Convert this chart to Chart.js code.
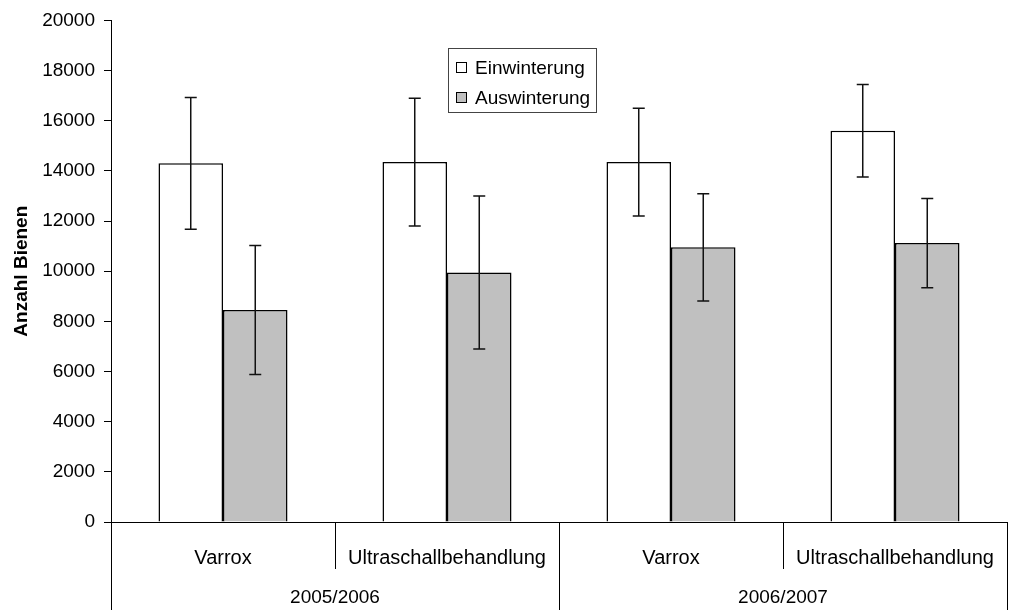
<!DOCTYPE html>
<html>
<head>
<meta charset="utf-8">
<script src="https://cdn.jsdelivr.net/npm/chart.js@4/dist/chart.umd.min.js"></script>
<style>
  html, body { margin: 0; padding: 0; background: #fff; }
  #wrap { width: 1011px; height: 610px; }
</style>
</head>
<body>
<div id="wrap"><canvas id="bienenChart"></canvas></div>
<script>
// data
const categories = ['Varrox', 'Ultraschallbehandlung', 'Varrox', 'Ultraschallbehandlung'];
const groups = ['2005/2006', '2006/2007'];
const einwinterung = [14300, 14350, 14350, 15600];
const einwinterungErr = [2630, 2550, 2150, 1840];
const auswinterung = [8450, 9950, 10950, 11120];
const auswinterungErr = [2570, 3050, 2140, 1775];
const seriesNames = ['Einwinterung', 'Auswinterung'];
const seriesColors = ['#ffffff', '#c0c0c0'];

const FONT = '"Liberation Sans", Arial, sans-serif';

// error bars drawn from the y scale
const errorBars = {
    id: 'errorBars',
    afterDatasetsDraw(chart) {
        const ctx = chart.ctx;
        const y = chart.scales.y;
        ctx.save();
        ctx.strokeStyle = '#111';
        ctx.lineWidth = 1.5;
        chart.data.datasets.forEach((ds, i) => {
            const meta = chart.getDatasetMeta(i);
            meta.data.forEach((bar, j) => {
                const v = ds.data[j];
                const e = ds.errors[j];
                const top = y.getPixelForValue(v + e);
                const bot = y.getPixelForValue(v - e);
                ctx.beginPath();
                ctx.moveTo(bar.x, top);
                ctx.lineTo(bar.x, bot);
                ctx.moveTo(bar.x - 6, top);
                ctx.lineTo(bar.x + 6, top);
                ctx.moveTo(bar.x - 6, bot);
                ctx.lineTo(bar.x + 6, bot);
                ctx.stroke();
            });
        });
        ctx.restore();
    }
};

// two level category axis + legend box
const groupedAxis = {
    id: 'groupedAxis',
    afterDraw(chart) {
        const ctx = chart.ctx;
        const x = chart.scales.x;
        const area = chart.chartArea;
        const n = categories.length;
        const step = (x.right - x.left) / n;
        const perGroup = n / groups.length;
        const bottom = chart.height;
        ctx.save();
        ctx.strokeStyle = '#000';
        ctx.lineWidth = 1;
        ctx.fillStyle = '#000';
        ctx.font = '20px ' + FONT;
        ctx.textAlign = 'center';
        ctx.textBaseline = 'middle';

        // separators
        for (let i = 0; i <= n; i++) {
            const px = Math.round(x.left + i * step) + 0.5;
            const isGroupEdge = i % perGroup === 0;
            ctx.beginPath();
            ctx.moveTo(px, area.bottom);
            ctx.lineTo(px, isGroupEdge ? bottom : area.bottom + 47);
            ctx.stroke();
        }
        categories.forEach((c, i) => {
            ctx.fillText(c, x.getPixelForValue(i), area.bottom + 36);
        });
        ctx.font = '19px ' + FONT;
        groups.forEach((g, k) => {
            const cx = x.left + (k + 0.5) * perGroup * step;
            ctx.fillText(g, cx, area.bottom + 76);
        });

        // legend
        const lx = 448, ly = 48, lw = 148, lh = 64;
        ctx.strokeStyle = '#444';
        ctx.strokeRect(lx + 0.5, ly + 0.5, lw, lh);
        ctx.textAlign = 'left';
        seriesNames.forEach((name, i) => {
            const cy = ly + 20 + i * 30;
            ctx.fillStyle = seriesColors[i];
            ctx.fillRect(lx + 8.5, cy - 5.5, 10, 10);
            ctx.strokeStyle = '#000';
            ctx.strokeRect(lx + 8.5, cy - 5.5, 10, 10);
            ctx.fillStyle = '#000';
            ctx.fillText(name, lx + 27, cy + 1);
        });
        ctx.restore();
    }
};

new Chart('bienenChart', {
    type: 'bar',
    data: {
        labels: categories,
        datasets: [{
            label: seriesNames[0],
            data: einwinterung,
            errors: einwinterungErr,
            backgroundColor: seriesColors[0],
            borderColor: '#000',
            borderWidth: 1.5
        }, {
            label: seriesNames[1],
            data: auswinterung,
            errors: auswinterungErr,
            backgroundColor: seriesColors[1],
            borderColor: '#000',
            borderWidth: 1.5
        }]
    },
    options: {
        responsive: true,
        maintainAspectRatio: false,
        animation: false,
        layout: { padding: { top: 17, right: 4, left: 0, bottom: 0 } },
        datasets: {
            bar: { categoryPercentage: 0.576, barPercentage: 1.0 }
        },
        plugins: {
            legend: { display: false },
            tooltip: { enabled: false }
        },
        scales: {
            x: {
                ticks: { display: false },
                grid: { display: false },
                border: { display: true, color: '#000', width: 1 },
                afterFit: s => { s.height = 88; }
            },
            y: {
                min: 0,
                max: 20000,
                ticks: {
                    stepSize: 2000,
                    color: '#000',
                    padding: 9,
                    font: { family: FONT, size: 19 },
                    callback: v => String(v)
                },
                grid: { display: true, drawOnChartArea: false, tickLength: 7, color: '#000' },
                border: { display: true, color: '#000', width: 1 },
                title: {
                    display: true,
                    text: 'Anzahl Bienen',
                    color: '#000',
                    font: { family: FONT, size: 19, weight: 'bold' },
                    padding: { top: 10, bottom: 0 }
                },
                afterFit: s => { s.width = 111; }
            }
        }
    },
    plugins: [errorBars, groupedAxis]
});
</script>
</body>
</html>
